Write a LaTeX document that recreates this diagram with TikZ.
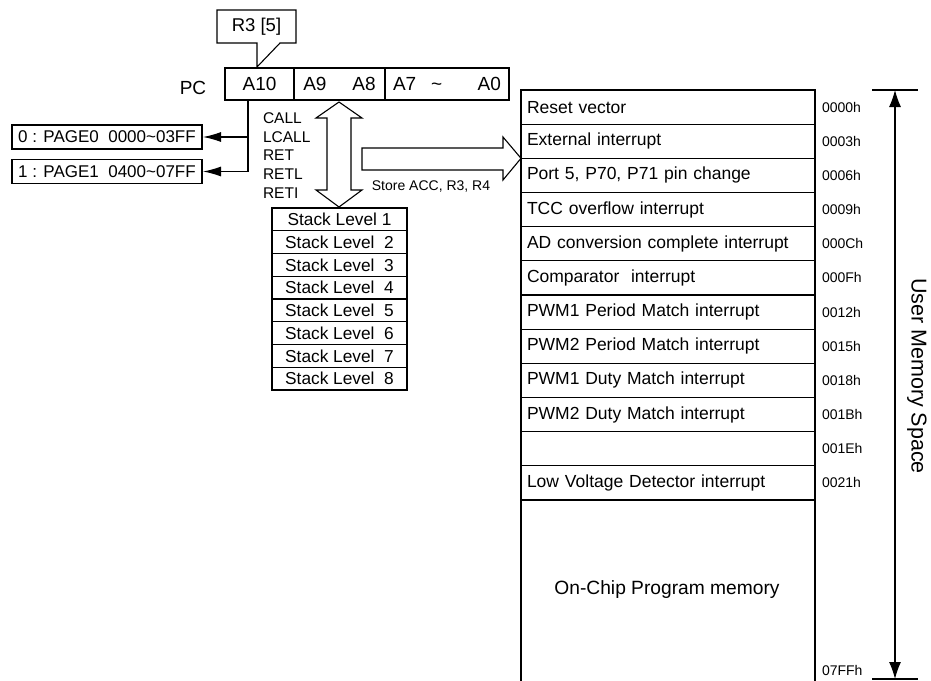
\documentclass[tikz,border=0pt]{standalone}
\usepackage{fontspec}
\setmainfont{Liberation Sans}
\usetikzlibrary{arrows.meta,positioning}
\tikzset{every node/.style={inner sep=0pt,outer sep=0pt}}

\begin{document}
\begin{tikzpicture}[x=1pt,y=-1pt,line width=1.1pt,
  cell/.style={draw,minimum height=32pt,font=\fontsize{19}{22}\selectfont},
  pagebox/.style={draw,minimum width=190pt,minimum height=24pt,font=\fontsize{17}{20}\selectfont},
  stackbox/.style={draw,minimum width=135pt,minimum height=22.75pt,font=\fontsize{17.3}{20}\selectfont},
  memrow/.style={draw,minimum height=34.17pt,text width=282pt,inner xsep=6pt,align=left,font=\fontsize{17.5}{21}\selectfont},
  adr/.style={font=\fontsize{14}{16}\selectfont},
  tip/.style={-{Latex[length=18pt,width=10pt]}}]
\useasboundingbox (0,0) rectangle (931,680);

% program counter
\node[font=\fontsize{19}{22}\selectfont] (pc) at (193,88) {PC};
\node[cell,minimum width=69pt,anchor=north west] (a10) at (225,68) {A10};
\node[cell,anchor=west,minimum width=91pt] (a98) at (a10.east) {A9\hspace{26pt}A8};
\node[cell,anchor=west,inner xsep=8pt,text width=108pt] (a70) at (a98.east) {A7\hspace{15pt}\textasciitilde\hfill A0};

% R3 bit 5 callout
\draw (217,10) -- (296,10) -- (296,43) -- (280,43) -- (257,67) -- (257,43) -- (217,43) -- cycle;
\node[font=\fontsize{18.5}{22}\selectfont] (r3) at (256.5,27) {R3 [5]};

% page select
\node[pagebox] (p0) at (107,137) {0 : PAGE0\ \ 0000\textasciitilde03FF};
\node[pagebox] (p1) at (107,171.5) {1 : PAGE1\ \ 0400\textasciitilde07FF};
\coordinate (sel) at ([xshift=-11.5pt]a10.south);
\draw[tip] (sel) |- ([xshift=1pt]p0.east);
\draw[tip] (sel) |- ([xshift=1pt]p1.east);

\node[anchor=west,align=left,font=\fontsize{15.5}{18.75}\selectfont] (ops) at (263,155.5) {CALL\\LCALL\\RET\\RETL\\RETI};

% stack
\foreach \i in {1,...,8}
  \node[stackbox] (s\i) at (339.5,{208+(\i-0.5)*22.75}) {Stack Level\ \ifnum\i>1\ \fi\i};

\draw (339,102) -- (362,118) -- (351,118) -- (351,190) -- (362,190) -- (339,207)
  -- (316,190) -- (327,190) -- (327,118) -- (316,118) -- cycle;

\draw (362,148) -- (503,148) -- (503,137) -- (521,158.3) -- (503,180) -- (503,170) -- (362,170) -- cycle;
\node[adr] (store) at (431,187) {Store ACC, R3, R4};

% vector table
\foreach \t/\a [count=\i from 0] in {{Reset vector}/0000h, {External interrupt}/0003h,
  {Port 5, P70, P71 pin change}/0006h, {TCC overflow interrupt}/0009h,
  {AD conversion complete interrupt}/000Ch, {Comparator\ \ interrupt}/000Fh,
  {PWM1 Period Match interrupt}/0012h, {PWM2 Period Match interrupt}/0015h,
  {PWM1 Duty Match interrupt}/0018h, {PWM2 Duty Match interrupt}/001Bh,
  {\mbox{}}/001Eh, {Low Voltage Detector interrupt}/0021h} {
  \node[memrow,anchor=north west] (m\i) at (521,{90+\i*34.17}) {\t};
  \node[adr,right=7pt of m\i.east] (ad\i) {\a};
}
\draw (m11.south west) -- ++(0,190);
\draw (m11.south east) -- ++(0,190);
\node[font=\fontsize{19.2}{22}\selectfont] (onchip) at (667,590) {On-Chip Program memory};
\node[adr,anchor=south west] (adend) at (822,676) {07FFh};

% memory space
\coordinate (mtop) at (895,90);
\coordinate (mbot) at (895,679);
\draw ([xshift=-23pt]mtop) -- ([xshift=23pt]mtop);
\draw ([xshift=-23pt]mbot) -- ([xshift=23pt]mbot);
\draw[{Latex[length=17pt,width=12pt]}-{Latex[length=17pt,width=12pt]}] (mtop) -- (mbot);
\node[rotate=-90,font=\fontsize{21.5}{24}\selectfont] (ums) at (917,376) {User Memory Space};

\end{tikzpicture}
\end{document}
